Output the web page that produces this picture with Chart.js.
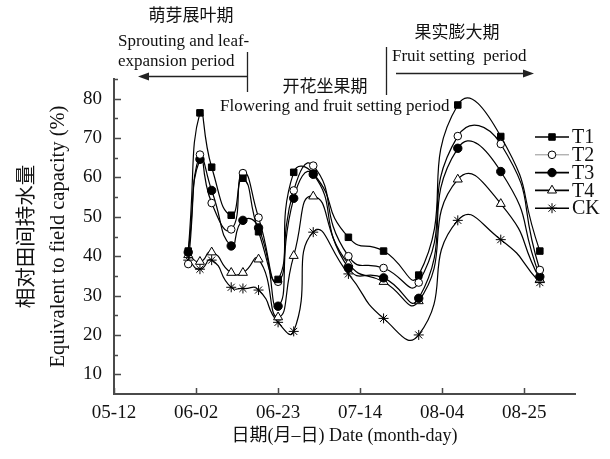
<!DOCTYPE html>
<html>
<head>
<meta charset="utf-8">
<script src="https://cdn.jsdelivr.net/npm/chart.js@4.4.0/dist/chart.umd.min.js"></script>
<style>
  html, body { margin: 0; padding: 0; background: #fff; }
  #wrap { width: 610px; height: 459px; }
</style>
</head>
<body>
<div id="wrap"><canvas id="chart" width="610" height="459"></canvas></div>
<script>
/* 相对田间持水量 — 5 treatments, days counted from 05-12 */
const TICK_DAYS = [0, 21, 42, 63, 84, 105];
const TICK_LABELS = ['05-12', '06-02', '06-23', '07-14', '08-04', '08-25'];
const Y_MAJOR = [10, 20, 30, 40, 50, 60, 70, 80];
const Y_MINOR = [15, 25, 35, 45, 55, 65, 75, 85];

const SAMPLE_DAYS = [19, 22, 25, 30, 33, 37, 42, 46, 51, 60, 69, 78, 88, 99, 109];
const T1 = [41.3, 76.4, 62.6, 50.4, 59.8, 46.2, 34.1, 61.3, 61.0, 44.8, 41.3, 35.2, 78.4, 70.4, 41.3];
const T2 = [38.0, 65.8, 53.5, 46.8, 61.1, 49.8, 33.5, 56.7, 63.0, 40.0, 37.0, 33.3, 70.5, 68.5, 36.5];
const T3 = [41.0, 64.6, 56.7, 42.6, 49.1, 47.2, 27.3, 54.7, 60.8, 37.0, 34.5, 29.3, 67.4, 61.5, 34.8];
const T4 = [40.3, 38.6, 41.0, 35.8, 35.8, 39.2, 24.5, 40.1, 55.2, 38.1, 33.5, 28.6, 59.5, 53.3, 34.1];
const CK = [39.0, 36.7, 39.0, 32.1, 31.8, 31.4, 23.2, 20.9, 46.1, 35.5, 24.2, 20.0, 49.1, 44.2, 33.3];

const SERIES_NAMES = ['T1', 'T2', 'T3', 'T4', 'CK'];
const SERIES_VALUES = [T1, T2, T3, T4, CK];
const MARKERS = [
  { style: 'rect', r: 4.6, fill: '#000' },
  { style: 'circle', r: 3.8, fill: '#fff' },
  { style: 'circle', r: 4.2, fill: '#000' },
  { style: 'triangle', r: 5.2, fill: '#fff' },
  { style: 'star', r: 5, fill: '#000' }
];

const FONT = '"Liberation Serif", "Noto Sans CJK SC", serif';
const INK = '#111';
const AXIS = '#4a4a4a';

Chart.defaults.font.family = FONT;
Chart.defaults.color = INK;

const datasets = SERIES_NAMES.map((name, i) => ({
  label: name,
  data: SAMPLE_DAYS.map((d, k) => ({ x: d, y: SERIES_VALUES[i][k] })),
  borderColor: '#000',
  borderWidth: 1.2,
  tension: 0.6,
  pointStyle: MARKERS[i].style,
  pointRadius: MARKERS[i].r,
  pointBackgroundColor: MARKERS[i].fill,
  pointBorderColor: '#000',
  pointBorderWidth: 1,
  fill: false
}));

// inward tick marks (major + minor on y)
const tickMarks = {
  id: 'tickMarks',
  afterDraw(chart) {
    const { ctx, scales: { x, y }, chartArea: a } = chart;
    ctx.save();
    ctx.strokeStyle = AXIS;
    ctx.lineWidth = 1.5;
    ctx.beginPath();
    Y_MAJOR.forEach(v => { const p = Math.round(y.getPixelForValue(v)) + 0.5; ctx.moveTo(a.left, p); ctx.lineTo(a.left + 7, p); });
    Y_MINOR.forEach(v => { const p = Math.round(y.getPixelForValue(v)) + 0.5; ctx.moveTo(a.left, p); ctx.lineTo(a.left + 4, p); });
    TICK_DAYS.forEach(v => { const p = Math.round(x.getPixelForValue(v)) + 0.5; ctx.moveTo(p, a.bottom); ctx.lineTo(p, a.bottom - 6); });
    ctx.stroke();
    ctx.restore();
  }
};

// legend box on the right, line + marker + name
const sideLegend = {
  id: 'sideLegend',
  afterDraw(chart) {
    const { ctx } = chart;
    const draw = Chart.helpers && Chart.helpers.drawPoint;
    ctx.save();
    SERIES_NAMES.forEach((name, i) => {
      const yy = 137 + i * 17.8;
      ctx.strokeStyle = i === 1 ? '#777' : '#000';
      ctx.lineWidth = i === 1 ? 0.8 : 1.6;
      ctx.beginPath(); ctx.moveTo(535, yy); ctx.lineTo(569, yy); ctx.stroke();
      ctx.fillStyle = MARKERS[i].fill;
      ctx.strokeStyle = '#000';
      ctx.lineWidth = 1;
      if (draw) draw(ctx, { pointStyle: MARKERS[i].style, radius: MARKERS[i].r, rotation: 0, borderWidth: 1 }, 552, yy);
      ctx.fillStyle = INK;
      ctx.font = '20px ' + FONT;
      ctx.textBaseline = 'middle';
      ctx.textAlign = 'left';
      ctx.fillText(name, 572, yy + 1);
    });
    ctx.restore();
  }
};

// growth period annotations above the plot
const periods = {
  id: 'periods',
  afterDraw(chart) {
    const { ctx } = chart;
    ctx.save();
    ctx.fillStyle = INK;
    ctx.textBaseline = 'middle';
    const txt = (s, x, y, align, size) => { ctx.font = size + 'px ' + FONT; ctx.textAlign = align; ctx.fillText(s, x, y); };
    txt('萌芽展叶期', 191, 17, 'center', 17);
    txt('Sprouting and leaf-', 118, 42, 'left', 17);
    txt('expansion period', 118, 62, 'left', 17);
    txt('开花坐果期', 325, 88, 'center', 17);
    txt('Flowering and fruit setting period', 220, 107, 'left', 17);
    txt('果实膨大期', 457, 34, 'center', 17);
    txt('Fruit setting  period', 392, 57, 'left', 17);

    ctx.strokeStyle = '#222';
    ctx.lineWidth = 1.3;
    ctx.beginPath();
    ctx.moveTo(247.5, 52); ctx.lineTo(247.5, 92);
    ctx.moveTo(386.5, 47); ctx.lineTo(386.5, 95);
    ctx.moveTo(247, 76.5); ctx.lineTo(146, 76.5);
    ctx.moveTo(396, 73.5); ctx.lineTo(526, 73.5);
    ctx.stroke();
    ctx.fillStyle = '#222';
    ctx.beginPath(); ctx.moveTo(138, 76.5); ctx.lineTo(149, 72.5); ctx.lineTo(149, 80.5); ctx.closePath(); ctx.fill();
    ctx.beginPath(); ctx.moveTo(534, 73.5); ctx.lineTo(523, 69.5); ctx.lineTo(523, 77.5); ctx.closePath(); ctx.fill();
    ctx.restore();
  }
};

new Chart(document.getElementById('chart'), {
  type: 'line',
  data: { datasets },
  options: {
    responsive: false,
    animation: false,
    layout: { padding: { top: 79, right: 35, left: 0, bottom: 0 } },
    plugins: { legend: { display: false }, tooltip: { enabled: false } },
    scales: {
      x: {
        type: 'linear',
        min: 0, max: 118,
        afterBuildTicks: s => { s.ticks = TICK_DAYS.map(v => ({ value: v })); },
        afterFit: s => { s.height = 65; },
        grid: { drawOnChartArea: false, drawTicks: false },
        border: { display: true, color: AXIS, width: 2 },
        ticks: {
          padding: 8, maxRotation: 0, autoSkip: false,
          font: { size: 19 }, color: INK,
          callback: v => TICK_LABELS[TICK_DAYS.indexOf(v)] ?? ''
        },
        title: {
          display: true,
          text: '日期(月–日) Date (month-day)',
          font: { size: 18 }, color: INK,
          padding: { top: 0, bottom: 12 }
        }
      },
      y: {
        min: 5, max: 85,
        afterBuildTicks: s => { s.ticks = Y_MAJOR.map(v => ({ value: v })); },
        afterFit: s => { s.width = 114; },
        grid: { drawOnChartArea: false, drawTicks: false },
        border: { display: true, color: AXIS, width: 2 },
        ticks: { padding: 12, font: { size: 19 }, color: INK },
        title: {
          display: true,
          text: ['相对田间持水量', 'Equivalent to field capacity (%)'],
          font: { size: 20.5, lineHeight: 1.5 }, color: INK,
          padding: { top: 12, bottom: 0 }
        }
      }
    }
  },
  plugins: [tickMarks, sideLegend, periods]
});
</script>
</body>
</html>
